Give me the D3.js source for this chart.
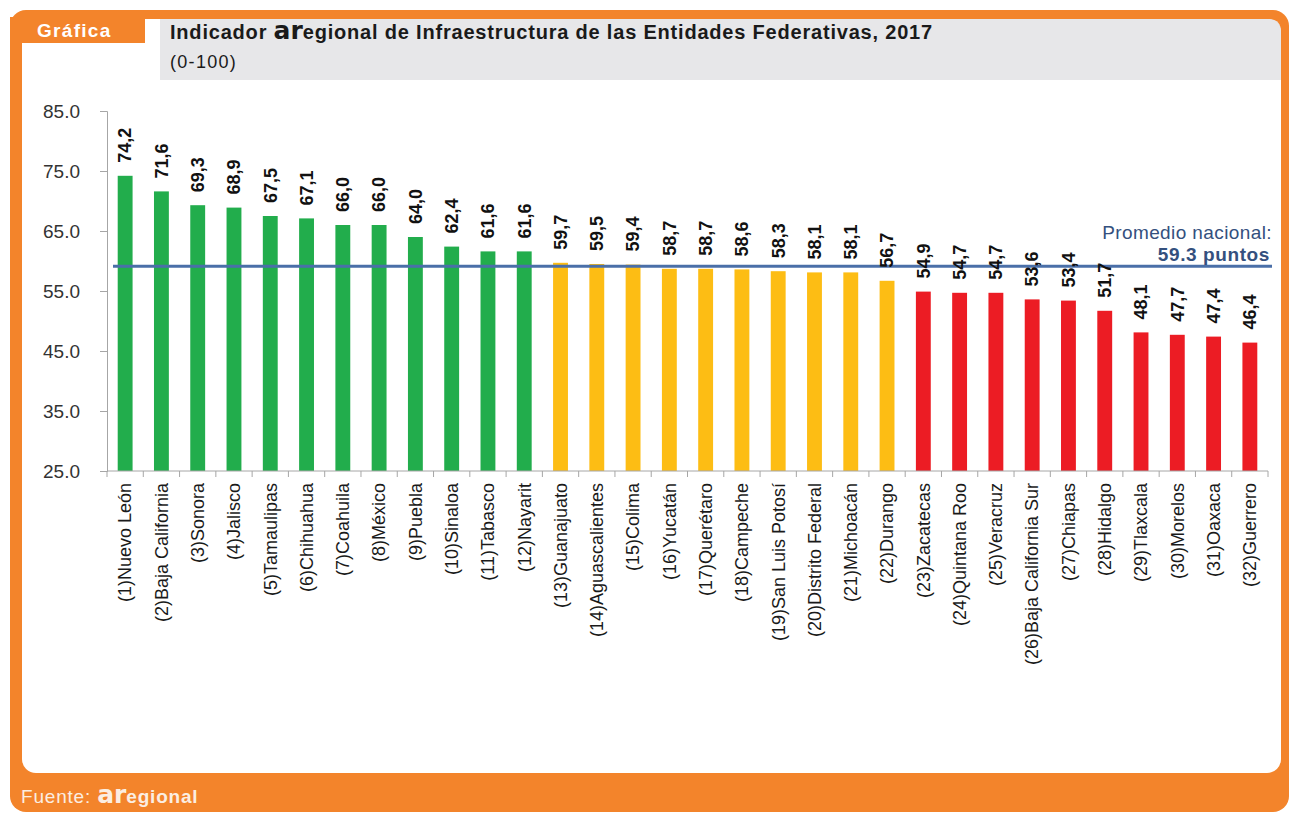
<!DOCTYPE html>
<html>
<head>
<meta charset="utf-8">
<script src="https://cdn.jsdelivr.net/npm/d3@7"></script>
<style>
  body { margin: 0; background: #fff; }
  text { font-family: "Liberation Sans", Arial, sans-serif; }
</style>
</head>
<body>
<svg id="chart"></svg>
<script>
// 數據
const estados = [
  "(1)Nuevo León", "(2)Baja California", "(3)Sonora", "(4)Jalisco",
  "(5)Tamaulipas", "(6)Chihuahua", "(7)Coahuila", "(8)México",
  "(9)Puebla", "(10)Sinaloa", "(11)Tabasco", "(12)Nayarit",
  "(13)Guanajuato", "(14)Aguascalientes", "(15)Colima", "(16)Yucatán",
  "(17)Querétaro", "(18)Campeche", "(19)San Luis Potosí", "(20)Distrito Federal",
  "(21)Michoacán", "(22)Durango", "(23)Zacatecas", "(24)Quintana Roo",
  "(25)Veracruz", "(26)Baja California Sur", "(27)Chiapas", "(28)Hidalgo",
  "(29)Tlaxcala", "(30)Morelos", "(31)Oaxaca", "(32)Guerrero"
];
const valores = [
  74.2, 71.6, 69.3, 68.9, 67.5, 67.1, 66.0, 66.0, 64.0, 62.4, 61.6, 61.6,
  59.7, 59.5, 59.4, 58.7, 58.7, 58.6, 58.3, 58.1, 58.1, 56.7,
  54.9, 54.7, 54.7, 53.6, 53.4, 51.7, 48.1, 47.7, 47.4, 46.4
];
const grupos = [
  "alto", "alto", "alto", "alto", "alto", "alto", "alto", "alto", "alto", "alto", "alto", "alto",
  "medio", "medio", "medio", "medio", "medio", "medio", "medio", "medio", "medio", "medio",
  "bajo", "bajo", "bajo", "bajo", "bajo", "bajo", "bajo", "bajo", "bajo", "bajo"
];
const yTicks = [25, 35, 45, 55, 65, 75, 85];
const promedio = 59.3;

const colores = { alto: "#22ad4c", medio: "#fdbd14", bajo: "#ec1c24" };
const naranja = "#f3842b";

const W = 1289, H = 814;
const svg = d3.select("#chart").attr("width", W).attr("height", H);

// 外框
svg.append("rect")
  .attr("x", 10).attr("y", 10).attr("width", 1279).attr("height", 802)
  .attr("rx", 16).attr("fill", naranja);
svg.append("rect")
  .attr("x", 22).attr("y", 19).attr("width", 1259).attr("height", 754)
  .attr("rx", 14).attr("fill", "#fff");

// 標題灰底
svg.append("path")
  .attr("d", "M160,19 H1268 Q1281,19 1281,32 V80 H160 Z")
  .attr("fill", "#e7e7e9");

// Gráfica 標籤
svg.append("rect")
  .attr("x", 10).attr("y", 17).attr("width", 135).attr("height", 26)
  .attr("fill", naranja);
svg.append("text")
  .attr("x", 37).attr("y", 37)
  .attr("fill", "#fff").attr("font-size", 19).attr("font-weight", "bold")
  .attr("letter-spacing", 1.3)
  .text("Gráfica");

// 標題
const titulo = svg.append("text")
  .attr("x", 170).attr("y", 39)
  .attr("fill", "#1a1a1a").attr("font-size", 20).attr("font-weight", "bold")
  .attr("letter-spacing", 0.8);
titulo.append("tspan").text("Indicador ");
titulo.append("tspan").attr("font-size", 25).attr("letter-spacing", 0).attr("font-family", "'DejaVu Sans', sans-serif").text("ar");
titulo.append("tspan").text("egional de Infraestructura de las Entidades Federativas, 2017");
svg.append("text")
  .attr("x", 170).attr("y", 68)
  .attr("fill", "#1a1a1a").attr("font-size", 18).attr("letter-spacing", 1.3)
  .text("(0-100)");

// 比例尺
const x = d3.scaleBand()
  .domain(estados)
  .range([107, 1268])
  .paddingInner(0.59)
  .paddingOuter(0.295);
const y = d3.scaleLinear().domain([25, 85]).range([471, 111]);

// Y 軸
const yAxis = svg.append("g")
  .attr("transform", "translate(107,0)")
  .call(d3.axisLeft(y).tickValues(yTicks).tickFormat(d3.format(".1f")).tickSize(7).tickPadding(20));
yAxis.select(".domain").attr("stroke", "#a6a6a6");
yAxis.selectAll(".tick line").attr("stroke", "#a6a6a6");
yAxis.selectAll(".tick text")
  .attr("font-family", "'Liberation Sans', Arial, sans-serif")
  .attr("font-size", 19).attr("fill", "#333");

// 長條
svg.append("g")
  .selectAll("rect")
  .data(valores)
  .join("rect")
  .attr("x", (d, i) => x(estados[i]))
  .attr("y", (d) => y(d))
  .attr("width", x.bandwidth())
  .attr("height", (d) => y(25) - y(d))
  .attr("fill", (d, i) => colores[grupos[i]]);

// X 軸
const gap = (x.step() - x.bandwidth()) / 2;
const bordes = estados.map((d) => x(d) - gap).concat([x(estados[estados.length - 1]) + x.bandwidth() + gap]);
const xAxis = svg.append("g");
xAxis.append("line")
  .attr("x1", 107).attr("x2", bordes[bordes.length - 1])
  .attr("y1", y(25)).attr("y2", y(25))
  .attr("stroke", "#a6a6a6");
xAxis.selectAll(".tk")
  .data(bordes)
  .join("line")
  .attr("class", "tk")
  .attr("x1", (d) => d).attr("x2", (d) => d)
  .attr("y1", y(25)).attr("y2", y(25) + 6)
  .attr("stroke", "#a6a6a6");
xAxis.selectAll(".lbl")
  .data(estados)
  .join("text")
  .attr("class", "lbl")
  .attr("transform", (d) => `translate(${x(d) + x.bandwidth() / 2},483) rotate(-90)`)
  .attr("text-anchor", "end")
  .attr("dy", "0.35em")
  .attr("font-size", 18)
  .attr("fill", "#1a1a1a")
  .text((d) => d);

// 平均線
svg.append("line")
  .attr("x1", 113).attr("x2", 1272)
  .attr("y1", y(promedio) + 1).attr("y2", y(promedio) + 1)
  .attr("stroke", "#4a6fa8").attr("stroke-width", 3);
svg.append("text")
  .attr("x", 1272).attr("y", 239)
  .attr("text-anchor", "end").attr("font-size", 19).attr("letter-spacing", 0.4).attr("fill", "#34507e")
  .text("Promedio nacional:");
svg.append("text")
  .attr("x", 1270).attr("y", 261)
  .attr("text-anchor", "end").attr("font-size", 19).attr("letter-spacing", 0.6).attr("font-weight", "bold").attr("fill", "#34507e")
  .text("59.3 puntos");

// 數值標籤
svg.append("g")
  .selectAll("text")
  .data(valores)
  .join("text")
  .attr("transform", (d, i) => `translate(${x(estados[i]) + x.bandwidth() / 2},${y(d) - 13}) rotate(-90)`)
  .attr("dy", "0.35em")
  .attr("font-size", 18)
  .attr("font-weight", "bold")
  .attr("fill", "#111")
  .text((d) => d.toFixed(1).replace(".", ","));

// 來源
const fuente = svg.append("text")
  .attr("x", 21).attr("y", 803)
  .attr("fill", "#fbeee2").attr("font-size", 19).attr("letter-spacing", 0.8);
fuente.append("tspan").text("Fuente: ");
fuente.append("tspan").attr("font-weight", "bold").attr("font-size", 25).attr("letter-spacing", 0).attr("font-family", "'DejaVu Sans', sans-serif").text("ar");
fuente.append("tspan").attr("font-weight", "bold").text("egional");
</script>
</body>
</html>
